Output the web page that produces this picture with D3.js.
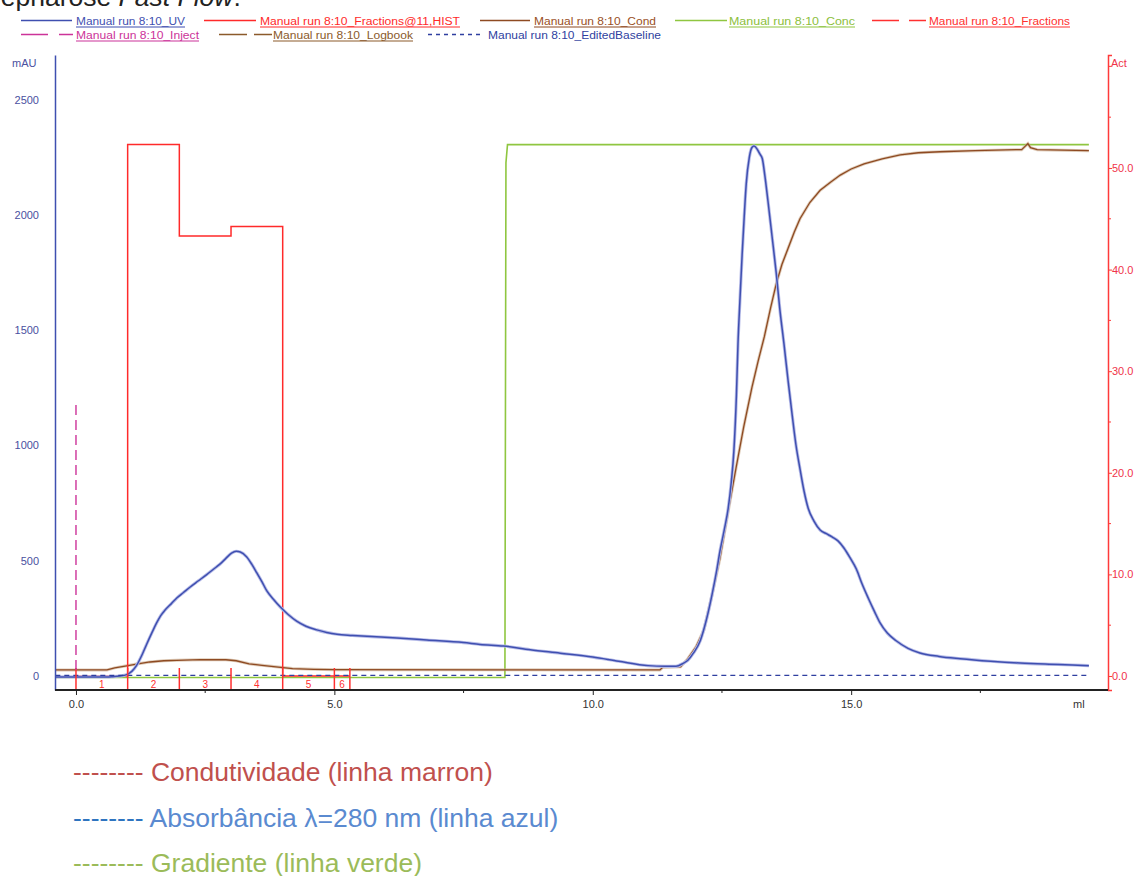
<!DOCTYPE html>
<html>
<head>
<meta charset="utf-8">
<script src="https://cdn.jsdelivr.net/npm/d3@7"></script>
<style>
  body { margin: 0; background: #fff; }
  svg { display: block; font-family: "Liberation Sans", Arial, sans-serif; }
</style>
</head>
<body>
<script>
// UV 280 nm trace (ml, mAU)
const uvVolume = [-0.4, 0.6, 0.7, 0.85, 0.98, 1.08, 1.17, 1.27, 1.37, 1.47, 1.56, 1.64, 1.72, 1.85, 1.95,
  2.08, 2.21, 2.37, 2.53, 2.66, 2.79, 2.9, 3.01, 3.1, 3.18, 3.3, 3.4, 3.5, 3.6, 3.69, 3.82, 3.95,
  4.1, 4.27, 4.45, 4.66, 4.85, 5.05, 5.35, 5.63, 6.21, 6.79, 7.5, 7.82, 8.27, 8.79, 9.37, 10.0,
  10.5, 11.07, 11.4, 11.61, 11.75, 11.84, 11.95, 12.08, 12.2, 12.31, 12.4, 12.46, 12.55, 12.62,
  12.68, 12.73, 12.78, 12.81, 12.85, 12.89, 12.93, 12.97, 13.03, 13.08, 13.12, 13.18, 13.23,
  13.28, 13.33, 13.39, 13.47, 13.55, 13.62, 13.7, 13.78, 13.86, 13.93, 14.01, 14.09, 14.17,
  14.28, 14.4, 14.52, 14.63, 14.75, 14.86, 14.98, 15.1, 15.21, 15.33, 15.45, 15.56, 15.7,
  15.87, 16.1, 16.33, 16.7, 17.11, 17.7, 18.27, 19.0, 19.6];
const uvMAU = [-4, -4, -3, 0, 6, 20, 45, 88, 139, 188, 230, 262, 285, 315, 338,
  362, 386, 413, 440, 463, 486, 510, 533, 541, 538, 517, 485, 447, 408, 370, 333, 300,
  268, 238, 216, 200, 189, 181, 176, 172, 165, 156, 145, 137, 130, 114, 99, 82,
  64, 45, 42, 42, 55, 68, 100, 153, 245, 355, 460, 540, 640, 726,
  840, 974, 1220, 1440, 1640, 1826, 1990, 2135, 2250, 2292, 2298, 2285, 2265,
  2244, 2170, 2060, 1905, 1748, 1590, 1440, 1280, 1129, 1005, 898, 800, 726,
  672, 633, 617, 603, 585, 555, 512, 464, 400, 338, 280, 230, 186,
  153, 120, 100, 85, 75, 64, 56, 50, 45];

// conductivity trace (ml, right axis)
const condVolume = [-0.4, 0.6, 0.75, 0.98, 1.2, 1.43, 1.7, 1.95, 2.4, 2.9, 3.1, 3.35, 3.6, 3.87, 4.19,
  4.6, 5.0, 11.3, 11.35, 11.7, 11.84, 12.0, 12.15, 12.3, 12.46, 12.62, 12.77, 12.92, 13.08, 13.2,
  13.32, 13.44, 13.55, 13.66, 13.78, 13.9, 14.01, 14.2, 14.4, 14.6, 14.79, 15.0, 15.25, 15.6,
  15.95, 16.3, 16.72, 17.4, 18.19, 18.3, 18.38, 18.42, 18.47, 18.6, 19.6];
const condValue = [0.6, 0.6, 0.8, 1.0, 1.2, 1.38, 1.5, 1.54, 1.61, 1.6, 1.5, 1.2, 1.05, 0.9, 0.73,
  0.66, 0.62, 0.6, 0.84, 0.9, 1.71, 2.9, 4.53, 7.8, 11.55, 16.2, 20.4, 24.5, 28.4, 31.0,
  33.4, 36.2, 38.6, 40.5, 42.1, 43.7, 45.0, 46.6, 47.8, 48.6, 49.3, 49.9, 50.4, 50.9,
  51.3, 51.5, 51.6, 51.7, 51.8, 51.8, 52.2, 52.4, 52.0, 51.8, 51.7];

// concentration (gradient step)
const concVolume = [-0.4, 8.3, 8.32, 8.35, 19.6];
const concValue = [-0.15, -0.15, 50.5, 52.3, 52.3];

// fractions
const fracBounds = [0, 1, 2, 3, 4, 5, 5.3];
const fracLabels = ['1', '2', '3', '4', '5', '6'];
const histValue = [0, 52.3, 43.3, 44.25, 0, 0];

const injectVolume = 0.0;
const injectTop = 1175;
const baselineMAU = 3;

const leftTicks = [0, 500, 1000, 1500, 2000, 2500];
const rightTicks = [0, 10, 20, 30, 40, 50];
const rightMinor = [5, 15, 25, 35, 45, 55, 60];
const xTicks = [0, 5, 10, 15];
const xMinor = [2.5, 7.5, 12.5, 17.5];

const legendNames = ['Manual run 8:10_UV', 'Manual run 8:10_Fractions@11,HIST', 'Manual run 8:10_Cond',
  'Manual run 8:10_Conc', 'Manual run 8:10_Fractions', 'Manual run 8:10_Inject',
  'Manual run 8:10_Logbook', 'Manual run 8:10_EditedBaseline'];

const noteLabels = ['Condutividade (linha marron)', 'Absorbância λ=280 nm (linha azul)', 'Gradiente (linha verde)'];

const uvColor = '#3f4fb0';
const histColor = '#ff2a2a';
const condColor = '#8e4a22';
const concColor = '#8fc640';
const fracColor = '#ff3030';
const injectColor = '#cc3399';
const logColor = '#8b5a2b';
const baseColor = '#2f3fa0';

const W = 1137, H = 876;
const plot = {left: 55, right: 1108, top: 55, bottom: 690};

const svg = d3.select('body').append('svg')
  .attr('width', W)
  .attr('height', H);

// caption line of the page, cut by the top edge as in the source image
const cap = svg.append('text')
  .attr('x', -17).attr('y', 6)
  .attr('font-size', 26.5)
  .attr('fill', '#222');
cap.append('tspan').text('Sepharose ');
cap.append('tspan').attr('font-style', 'italic').text('Fast Flow');
cap.append('tspan').text('.');

const x = d3.scaleLinear().domain([-0.406, 19.97]).range([plot.left, plot.right]);
const yL = d3.scaleLinear().domain([-60.7, 2693]).range([plot.bottom, plot.top]);
const yR = d3.scaleLinear().domain([-1.378, 61.12]).range([plot.bottom, plot.top]);

svg.append('clipPath').attr('id', 'clip')
  .append('rect')
  .attr('x', plot.left).attr('y', plot.top)
  .attr('width', plot.right - plot.left).attr('height', plot.bottom - plot.top);

const g = svg.append('g').attr('clip-path', 'url(#clip)');

const zipped = (xs, ys) => xs.map((v, i) => [v, ys[i]]);

const lineR = d3.line().x(d => x(d[0])).y(d => yR(d[1]));
const lineL = d3.line().x(d => x(d[0])).y(d => yL(d[1])).curve(d3.curveMonotoneX);

// gradient
g.append('path')
  .attr('d', lineR(zipped(concVolume, concValue)))
  .attr('fill', 'none').attr('stroke', concColor).attr('stroke-width', 1.6);

// conductivity
g.append('path')
  .attr('d', lineR(zipped(condVolume, condValue)))
  .attr('fill', 'none').attr('stroke', '#c8a888').attr('stroke-width', 3).attr('opacity', 0.6);
g.append('path')
  .attr('d', lineR(zipped(condVolume, condValue)))
  .attr('fill', 'none').attr('stroke', condColor).attr('stroke-width', 1.3);

// fraction histogram
const histPts = [];
histValue.forEach((v, i) => {
  histPts.push([fracBounds[i], v]);
  histPts.push([fracBounds[i + 1], v]);
});
g.append('path')
  .attr('d', lineR(histPts))
  .attr('fill', 'none').attr('stroke', histColor).attr('stroke-width', 1.5);

// UV
g.append('path')
  .attr('d', lineL(zipped(uvVolume, uvMAU)))
  .attr('fill', 'none').attr('stroke', '#b8bde8').attr('stroke-width', 3.2);
g.append('path')
  .attr('d', lineL(zipped(uvVolume, uvMAU)))
  .attr('fill', 'none').attr('stroke', uvColor).attr('stroke-width', 1.5);

// edited baseline
g.append('line')
  .attr('x1', x(-0.4)).attr('x2', x(19.6))
  .attr('y1', yL(baselineMAU)).attr('y2', yL(baselineMAU))
  .attr('stroke', baseColor).attr('stroke-width', 1.3).attr('stroke-dasharray', '5,4');

// fraction marks
svg.append('g').selectAll('line').data(fracBounds).join('line')
  .attr('x1', d => x(d)).attr('x2', d => x(d))
  .attr('y1', plot.bottom - 22).attr('y2', plot.bottom)
  .attr('stroke', fracColor).attr('stroke-width', 1.5);
svg.append('g').selectAll('text').data(fracLabels).join('text')
  .attr('x', (d, i) => x((fracBounds[i] + fracBounds[i + 1]) / 2))
  .attr('y', plot.bottom - 2)
  .attr('text-anchor', 'middle')
  .attr('font-size', 10)
  .attr('fill', fracColor)
  .text(d => d);

// inject mark
svg.append('line')
  .attr('x1', x(injectVolume)).attr('x2', x(injectVolume))
  .attr('y1', yL(injectTop)).attr('y2', plot.bottom - 20)
  .attr('stroke', injectColor).attr('stroke-width', 1.4).attr('stroke-dasharray', '10,5');

// left axis
const axL = svg.append('g')
  .attr('transform', `translate(${plot.left},0)`)
  .call(d3.axisLeft(yL).tickValues(leftTicks).tickSize(0).tickPadding(16).tickFormat(d3.format('d')));
axL.select('.domain').attr('stroke', uvColor).attr('stroke-width', 1.5);
axL.selectAll('text').attr('font-size', 11).attr('fill', '#4a50a0').attr('font-family', null);
svg.append('text').attr('x', 12).attr('y', 67).attr('font-size', 11).attr('fill', '#4a50a0').text('mAU');

// right axis
const axR = svg.append('g')
  .attr('transform', `translate(${plot.right},0)`)
  .call(d3.axisRight(yR).tickValues(rightTicks).tickSize(4).tickPadding(0).tickFormat(d3.format('.1f')));
axR.select('.domain').attr('stroke', '#ff3a3a').attr('stroke-width', 1.5);
axR.selectAll('line').attr('stroke', '#ff3a3a');
axR.selectAll('text').attr('font-size', 11).attr('fill', '#f0334a').attr('font-family', null);
svg.append('g').selectAll('line').data(rightMinor).join('line')
  .attr('x1', plot.right).attr('x2', plot.right + 3)
  .attr('y1', d => yR(d)).attr('y2', d => yR(d))
  .attr('stroke', '#ff3a3a');
svg.append('text').attr('x', 1111).attr('y', 67).attr('font-size', 11).attr('fill', '#f0334a').text('Act');

// bottom axis
const axB = svg.append('g')
  .attr('transform', `translate(0,${plot.bottom})`)
  .call(d3.axisBottom(x).tickValues(xTicks).tickSize(5).tickPadding(5).tickFormat(d3.format('.1f')));
axB.select('.domain').attr('stroke', '#222').attr('stroke-width', 2).attr('d', `M${plot.left},0H${plot.right}`);
axB.selectAll('line').attr('stroke', '#222');
axB.selectAll('text').attr('font-size', 11).attr('fill', '#333').attr('font-family', null);
svg.append('g').selectAll('line').data(xMinor).join('line')
  .attr('x1', d => x(d)).attr('x2', d => x(d))
  .attr('y1', plot.bottom).attr('y2', plot.bottom + 3)
  .attr('stroke', '#222');
svg.append('text').attr('x', 1073).attr('y', 708).attr('font-size', 11).attr('fill', '#333').text('ml');

// top legend
const legendStyle = [
  {color: uvColor, text: uvColor, dash: null, underline: true},
  {color: histColor, text: histColor, dash: null, underline: true},
  {color: condColor, text: '#9a4f1e', dash: null, underline: true},
  {color: concColor, text: '#8cc03c', dash: null, underline: true},
  {color: fracColor, text: fracColor, dash: '27,10', underline: true},
  {color: injectColor, text: injectColor, dash: '27,11', underline: true},
  {color: logColor, text: '#8b5a2b', dash: '28,7', underline: true},
  {color: baseColor, text: baseColor, dash: '4,4', underline: false}
];
const legendLayout = [
  {row: 0, x0: 21, x1: 72, tx: 76, tw: 109},
  {row: 0, x0: 204, x1: 256, tx: 260, tw: 200},
  {row: 0, x0: 480, x1: 530, tx: 534, tw: 122},
  {row: 0, x0: 675, x1: 727, tx: 729, tw: 126},
  {row: 0, x0: 872, x1: 926, tx: 929, tw: 141},
  {row: 1, x0: 21, x1: 73, tx: 76, tw: 123},
  {row: 1, x0: 219, x1: 272, tx: 273, tw: 140},
  {row: 1, x0: 428, x1: 482, tx: 488, tw: 173}
];
const leg = svg.append('g');
legendNames.forEach((name, i) => {
  const st = legendStyle[i], lay = legendLayout[i];
  const ly = lay.row === 0 ? 20.5 : 34.5;
  leg.append('line')
    .attr('x1', lay.x0).attr('x2', lay.x1).attr('y1', ly).attr('y2', ly)
    .attr('stroke', st.color).attr('stroke-width', 1.5)
    .attr('stroke-dasharray', st.dash);
  leg.append('text')
    .attr('x', lay.tx).attr('y', ly + 4)
    .attr('font-size', 10)
    .attr('textLength', lay.tw).attr('lengthAdjust', 'spacingAndGlyphs')
    .attr('fill', st.text)
    .text(name);
  if (st.underline) {
    leg.append('line')
      .attr('x1', lay.tx).attr('x2', lay.tx + lay.tw)
      .attr('y1', ly + 6.5).attr('y2', ly + 6.5)
      .attr('stroke', st.color).attr('stroke-width', 1.2);
  }
});

// notes below the chart
const noteDash = ['#c0504d', '#2e74c0', '#9bbb59'];
const noteText = ['#c0504d', '#5a8ad0', '#9bbb59'];
noteLabels.forEach((label, i) => {
  const t = svg.append('text')
    .attr('x', 73).attr('y', 781 + i * 45.5)
    .attr('font-size', 26.5);
  t.append('tspan').attr('fill', noteDash[i]).text('-------- ');
  t.append('tspan').attr('fill', noteText[i]).text(label);
});
</script>
</body>
</html>
